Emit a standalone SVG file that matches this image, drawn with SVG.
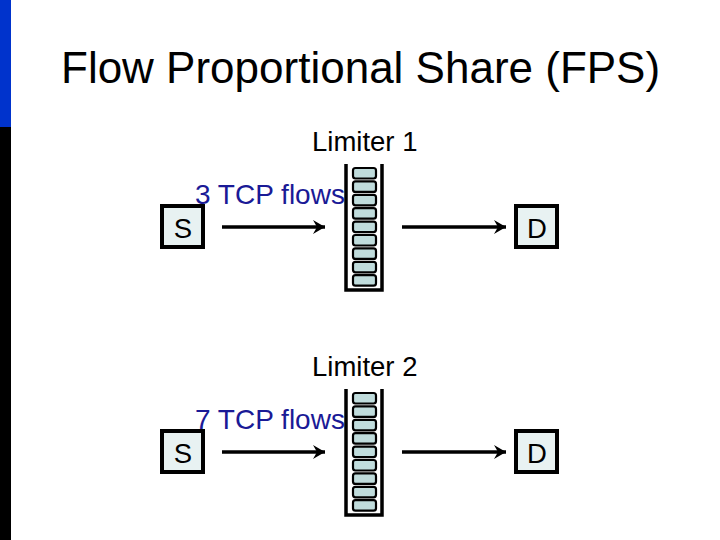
<svg xmlns="http://www.w3.org/2000/svg" width="720" height="540" viewBox="0 0 720 540">
<style>
text{font-family:"Liberation Sans",Arial,sans-serif;fill:#000}
.title{font-size:44px}
.lab{font-size:27.500px}
.flow{font-size:28px;fill:#1a1a96}
.box{fill:#e8f2f2;stroke:#000;stroke-width:4}
.wall{fill:none;stroke:#000;stroke-width:3.500}
.cell{fill:#c0dcdc;stroke:#000;stroke-width:2.200}
.conn{stroke:#000;stroke-width:3.500;fill:none;marker-end:url(#a)}
</style>
<defs>
<marker id="a" markerUnits="userSpaceOnUse" markerWidth="14" markerHeight="16" refX="13" refY="8" orient="auto"><path d="M1 1L13 8L1 15L5 8Z" fill="#000"/></marker>
<g id="cells">
<rect class="cell" x="353" y="168" width="23" height="10.500" rx="2.500"/>
<rect class="cell" x="353" y="181.400" width="23" height="10.500" rx="2.500"/>
<rect class="cell" x="353" y="194.800" width="23" height="10.500" rx="2.500"/>
<rect class="cell" x="353" y="208.200" width="23" height="10.500" rx="2.500"/>
<rect class="cell" x="353" y="221.600" width="23" height="10.500" rx="2.500"/>
<rect class="cell" x="353" y="235" width="23" height="10.500" rx="2.500"/>
<rect class="cell" x="353" y="248.400" width="23" height="10.500" rx="2.500"/>
<rect class="cell" x="353" y="261.800" width="23" height="10.500" rx="2.500"/>
<rect class="cell" x="353" y="275.200" width="23" height="10.500" rx="2.500"/>
</g>
</defs>
<g id="sidebar">
<rect x="0" y="0" width="11" height="127" fill="#0033cc"/>
<rect x="0" y="127" width="11" height="413" fill="#000"/>
</g>
<text class="title" x="61" y="83">Flow Proportional Share (FPS)</text>
<g id="limiter1">
<text class="lab" x="312" y="151">Limiter 1</text>
<path class="wall" d="M346 164V290H382V164"/>
<use href="#cells"/>
</g>
<g id="limiter2">
<text class="lab" x="312" y="376">Limiter 2</text>
<path class="wall" d="M346 389V515H382V389"/>
<use href="#cells" y="225"/>
</g>
<g id="s1"><rect class="box" x="162" y="206" width="41" height="41"/><text class="lab" x="183" y="238" text-anchor="middle">S</text></g>
<g id="d1"><rect class="box" x="516" y="206" width="41" height="41"/><text class="lab" x="537" y="238" text-anchor="middle">D</text></g>
<g id="s2"><rect class="box" x="162" y="431" width="41" height="41"/><text class="lab" x="183" y="463" text-anchor="middle">S</text></g>
<g id="d2"><rect class="box" x="516" y="431" width="41" height="41"/><text class="lab" x="537" y="463" text-anchor="middle">D</text></g>
<text class="flow" x="195" y="204">3 TCP flows</text>
<text class="flow" x="195" y="429">7 TCP flows</text>
<g id="connectors">
<path class="conn" d="M222 227H325"/>
<path class="conn" d="M402 227H506"/>
<path class="conn" d="M222 452H325"/>
<path class="conn" d="M402 452H506"/>
</g>
</svg>
